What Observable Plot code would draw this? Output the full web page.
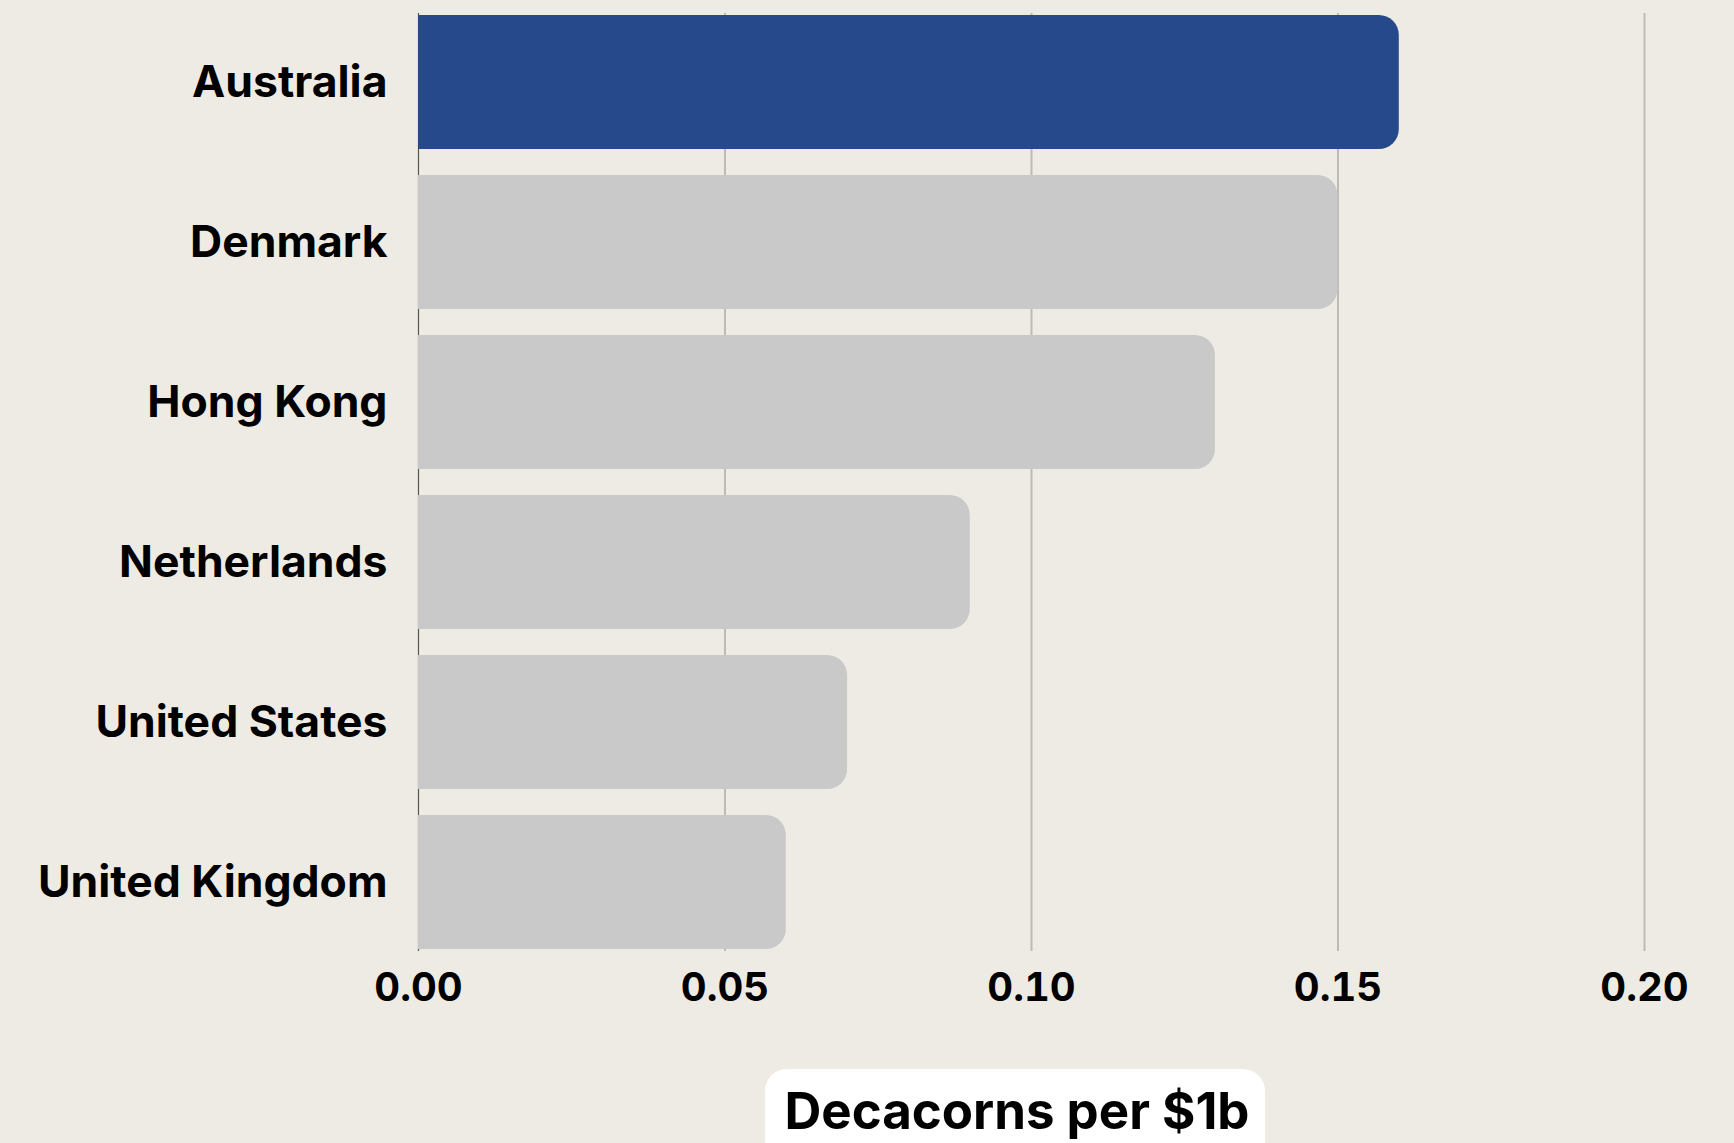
<!DOCTYPE html>
<html><head><meta charset="utf-8">
<script src="https://cdn.jsdelivr.net/npm/d3@7"></script>
<script src="https://cdn.jsdelivr.net/npm/@observablehq/plot@0.6"></script>
<style>
html,body{margin:0;padding:0;background:#EEEBE4;overflow:hidden}
#chart{position:relative;width:1734px;height:1143px}
svg{display:block}
</style></head><body><div id="chart"></div>
<script>
const countries = ["Australia","Denmark","Hong Kong","Netherlands","United States","United Kingdom"];
const values = [0.16,0.15,0.13,0.09,0.07,0.06];
const highlight = ["Australia"];
const xTicks = [0,0.05,0.10,0.15,0.20];
const xLabel = "Decacorns per $1b";

const data = countries.map((c,i)=>({country:c, value:values[i]}));
const fillOf = d => highlight.includes(d.country) ? "#26498B" : "#C9C9C9";
const font = "Inter, 'Open Sans', sans-serif";

const chart = Plot.plot({
  width:1734, height:1143,
  marginTop:13, marginBottom:192, marginLeft:418, marginRight:90,
  style:{background:"transparent", fontFamily:font, color:"#000", overflow:"visible"},
  x:{domain:[0,0.2], label:null},
  y:{domain:countries, paddingInner:0.16, paddingOuter:0, label:null},
  marks:[
    Plot.gridX(xTicks.filter(t=>t>0), {stroke:"#BDBBB6", strokeOpacity:1, strokeWidth:2}),
    Plot.ruleX([0], {stroke:"#555", strokeWidth:1.2}),
    Plot.barX(data, {x:"value", y:"country", fill:fillOf, rx:20}),
    Plot.barX(data, {x1:0, x2:d=>d.value/2, y:"country", fill:fillOf}),
    Plot.axisX(xTicks, {tickFormat:d3.format(".2f"), tickSize:0, tickPadding:21, fontSize:40, fontWeight:700, label:null}),
    Plot.axisY({tickSize:0, tickPadding:31, fontSize:44.5, fontWeight:700, label:null})
  ]
});
document.getElementById("chart").appendChild(chart);

// x-axis label in a white rounded box
const xs = chart.scale("x");
const cx = (xs.apply(xs.domain[0]) + xs.apply(xs.domain[1])) / 2 - 16;
const svg = d3.select(chart);
const g = svg.append("g");
g.append("rect").attr("x", cx - 250).attr("y", 1069).attr("width", 500).attr("height", 110)
  .attr("rx", 22).attr("fill", "#FFFFFF");
g.append("text").attr("x", cx + 2).attr("y", 1129).attr("text-anchor", "middle")
  .attr("font-family", font).attr("font-weight", 700).attr("font-size", 51).attr("fill", "#000")
  .text(xLabel);
</script></body></html>
